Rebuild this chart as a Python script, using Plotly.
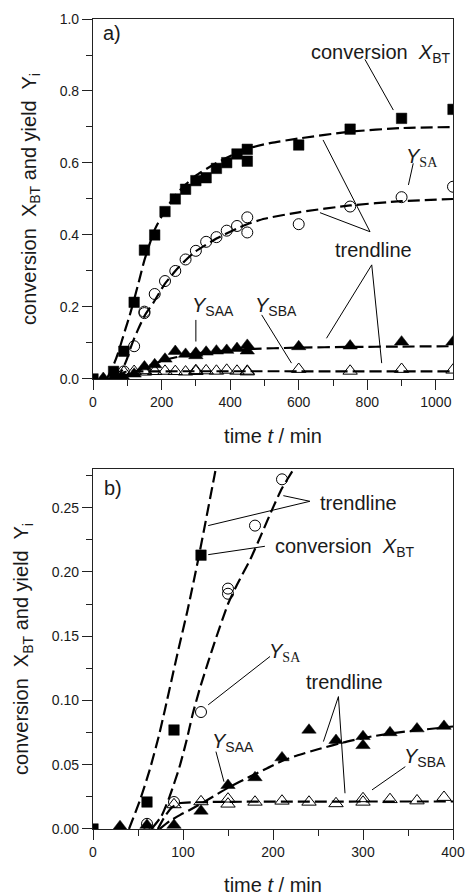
import plotly.graph_objects as go

# ---------------- data ----------------
# measured points: time t / min and value
t_xbt = [0, 60, 90, 120, 150, 180, 210, 240, 270, 300, 330, 360, 390, 420, 450, 450, 600, 750, 900, 1050]
x_bt = [0.0, 0.021, 0.077, 0.213, 0.358, 0.40, 0.465, 0.50, 0.527, 0.551, 0.559, 0.585, 0.601, 0.625,
        0.638, 0.605, 0.65, 0.694, 0.724, 0.749]

t_sa = [60, 90, 120, 150, 150, 180, 210, 240, 270, 300, 330, 360, 390, 420, 450, 450, 600, 750, 900, 1050]
y_sa = [0.004, 0.021, 0.091, 0.183, 0.187, 0.236, 0.272, 0.30, 0.332, 0.356, 0.381, 0.394, 0.412, 0.425,
        0.449, 0.407, 0.43, 0.479, 0.505, 0.534]

t_saa = [30, 60, 90, 120, 150, 180, 210, 240, 270, 300, 300, 330, 360, 390, 420, 450, 450, 600, 750, 900, 1050]
y_saa = [0.002, 0.003, 0.003, 0.014, 0.034, 0.040, 0.0555, 0.077, 0.069, 0.072, 0.065, 0.075, 0.078, 0.080,
         0.085, 0.094, 0.078, 0.09, 0.092, 0.103, 0.103]

t_sba = [90, 120, 150, 150, 180, 210, 240, 270, 300, 300, 330, 360, 390, 420, 450, 450, 600, 750, 900, 1050]
y_sba = [0.019, 0.0213, 0.0234, 0.0195, 0.021, 0.0218, 0.021, 0.0198, 0.0237, 0.021, 0.023, 0.022, 0.0247,
         0.022, 0.022, 0.020, 0.027, 0.022, 0.027, 0.025]

# trendlines
tt_xbt = [40, 52, 63, 73, 80, 87, 95, 105, 117, 135, 150, 180, 210, 240, 270, 300, 360, 420, 450, 520, 600,
          750, 900, 1050]
tr_xbt = [0.0, 0.022, 0.046, 0.072, 0.093, 0.115, 0.14, 0.17, 0.21, 0.275, 0.33, 0.415, 0.468, 0.51, 0.54,
          0.565, 0.60, 0.628, 0.64, 0.656, 0.668, 0.687, 0.697, 0.70]

tt_sa = [65, 76, 85, 96, 104, 111, 119, 128, 135, 150, 160, 175, 187, 200, 210, 223, 240, 270, 300, 360, 420,
         450, 500, 600, 750, 900, 1050]
tr_sa = [0.0, 0.01, 0.025, 0.048, 0.069, 0.09, 0.11, 0.13, 0.145, 0.175, 0.19, 0.21, 0.229, 0.25, 0.265, 0.28,
         0.30, 0.33, 0.355, 0.39, 0.418, 0.43, 0.445, 0.463, 0.482, 0.494, 0.50]

tt_saa = [74, 85, 97, 108, 128, 150, 175, 193, 210, 226, 250, 282, 310, 338, 390, 450, 600, 750, 900, 1050]
tr_saa = [0.0, 0.006, 0.011, 0.015, 0.023, 0.032, 0.041, 0.047, 0.053, 0.057, 0.062, 0.068, 0.072, 0.075,
          0.079, 0.083, 0.087, 0.089, 0.09, 0.091]

tt_sba = [72, 80, 88, 96, 130, 1050]
tr_sba = [0.0, 0.01, 0.017, 0.020, 0.021, 0.021]

# axis ranges / ticks
xa_range = [0, 1050]
ya_range = [0, 1.0]
xb_range = [0, 400]
yb_range = [0, 0.28]

FONT = "Liberation Sans, Arial, sans-serif"
INK = "#1a1a1a"

fig = go.Figure()

dash = "12px,5px"


def add_panel(xa, ya):
    for tx, ty in [(tt_xbt, tr_xbt), (tt_sa, tr_sa), (tt_saa, tr_saa), (tt_sba, tr_sba)]:
        fig.add_trace(go.Scatter(x=tx, y=ty, mode="lines", xaxis=xa, yaxis=ya,
                                 line=dict(color="black", width=2.2, dash=dash, shape="spline", smoothing=0.55),
                                 hoverinfo="skip", showlegend=False))
    fig.add_trace(go.Scatter(x=t_sba, y=y_sba, mode="markers", xaxis=xa, yaxis=ya, showlegend=False,
                             marker=dict(symbol="triangle-up-open", size=12.5, color="black",
                                         line=dict(width=1, color="black"))))
    fig.add_trace(go.Scatter(x=t_saa, y=y_saa, mode="markers", xaxis=xa, yaxis=ya, showlegend=False,
                             marker=dict(symbol="triangle-up", size=12.5, color="black",
                                         line=dict(width=0.5, color="black"))))
    fig.add_trace(go.Scatter(x=t_sa, y=y_sa, mode="markers", xaxis=xa, yaxis=ya, showlegend=False,
                             marker=dict(symbol="circle-open", size=11, color="black",
                                         line=dict(width=1, color="black"))))
    fig.add_trace(go.Scatter(x=t_xbt, y=x_bt, mode="markers", xaxis=xa, yaxis=ya, showlegend=False,
                             marker=dict(symbol="square", size=10.5, color="black",
                                         line=dict(width=0.5, color="black"))))


add_panel("x", "y")
add_panel("x2", "y2")

axis_common = dict(showline=True, mirror=True, linecolor="#222", linewidth=1.2,
                   ticks="outside", ticklen=10, tickwidth=1.2, tickcolor="#222",
                   showgrid=False, zeroline=False, automargin=False,
                   tickfont=dict(family=FONT, size=14, color=INK),
                   title_font=dict(family=FONT, size=20, color=INK))

ytitle = "conversion&nbsp; X<sub>BT</sub> and yield&nbsp; Y<sub>i</sub>"
xtitle = "time <i>t</i> / min"
minor_style = dict(ticklen=6, ticks="outside", tickcolor="#222", tickwidth=1.2)

fig.update_layout(
    width=465, height=896,
    margin=dict(l=93, r=12, t=19, b=67),
    paper_bgcolor="white", plot_bgcolor="white",
    font=dict(family=FONT, color=INK),
    xaxis=dict(domain=[0, 1], anchor="y", range=xa_range, dtick=200, tick0=0,
               minor=dict(dtick=100, **minor_style),
               title=dict(text=xtitle, standoff=20), **axis_common),
    yaxis=dict(domain=[0.5556, 1], anchor="x", range=ya_range, dtick=0.2, tick0=0, tickformat=".1f",
               minor=dict(dtick=0.1, **minor_style),
               title=dict(text=ytitle, standoff=17), **axis_common),
    xaxis2=dict(domain=[0, 1], anchor="y2", range=xb_range, dtick=100, tick0=0,
                minor=dict(dtick=50, **minor_style),
                title=dict(text=xtitle, standoff=21), **axis_common),
    yaxis2=dict(domain=[0, 0.4444], anchor="x2", range=yb_range, dtick=0.05, tick0=0, tickformat=".2f",
                minor=dict(dtick=0.025, **minor_style),
                title=dict(text=ytitle, standoff=17), **axis_common),
)

ann = []
shapes = []


def label(text, x, y, xr, yr, xanchor="left", yanchor="middle"):
    ann.append(dict(text=text, x=x, y=y, xref=xr, yref=yr, showarrow=False,
                    xanchor=xanchor, yanchor=yanchor, font=dict(family=FONT, size=20, color=INK)))


def leader(x0, y0, x1, y1, xr, yr):
    shapes.append(dict(type="line", x0=x0, y0=y0, x1=x1, y1=y1, xref=xr, yref=yr,
                       line=dict(color="black", width=1)))


serif_sa = '<span style="font-family:Liberation Serif, Times New Roman, serif">SA</span>'

# ---- panel a annotations ----
label("a)", 22, 0.962, "x", "y")
label("conversion&nbsp; <i>X</i><sub>BT</sub>", 630, 0.905, "x", "y")
leader(793, 0.888, 876, 0.747, "x", "y")
label("<i>Y</i><sub>" + serif_sa + "</sub>", 908, 0.615, "x", "y")
leader(934, 0.599, 920, 0.539, "x", "y")
label("trendline", 819, 0.358, "x", "y", xanchor="center")
leader(808, 0.409, 671, 0.664, "x", "y")
leader(808, 0.409, 662, 0.462, "x", "y")
leader(813, 0.317, 681, 0.113, "x", "y")
leader(813, 0.317, 842, 0.044, "x", "y")
label("<i>Y</i><sub>SAA</sub>", 284, 0.20, "x", "y")
leader(300, 0.164, 300, 0.104, "x", "y")
label("<i>Y</i><sub>SBA</sub>", 466, 0.20, "x", "y")
leader(492, 0.178, 579, 0.044, "x", "y")

# ---- panel b annotations ----
label("b)", 10, 0.2656, "x2", "y2")
label("trendline", 250, 0.2537, "x2", "y2")
leader(241, 0.2549, 211.5, 0.2593, "x2", "y2")
leader(241, 0.2549, 128, 0.236, "x2", "y2")
label("conversion&nbsp; <i>X</i><sub>BT</sub>", 200, 0.219, "x2", "y2")
leader(191, 0.2199, 128, 0.2134, "x2", "y2")
label("<i>Y</i><sub>" + serif_sa + "</sub>", 193, 0.137, "x2", "y2")
leader(196.7, 0.1342, 128, 0.0966, "x2", "y2")
label("trendline", 234, 0.1147, "x2", "y2")
leader(272.7, 0.103, 256, 0.068, "x2", "y2")
leader(272.7, 0.103, 280, 0.0278, "x2", "y2")
label("<i>Y</i><sub>SAA</sub>", 130, 0.067, "x2", "y2")
leader(136.6, 0.0602, 145.5, 0.0368, "x2", "y2")
label("<i>Y</i><sub>SBA</sub>", 343, 0.0555, "x2", "y2")
leader(347, 0.0485, 310, 0.0304, "x2", "y2")

fig.update_layout(annotations=ann, shapes=shapes)

fig.write_html("out.html", config={"displayModeBar": False},
               post_script="document.body.style.margin='0';")
